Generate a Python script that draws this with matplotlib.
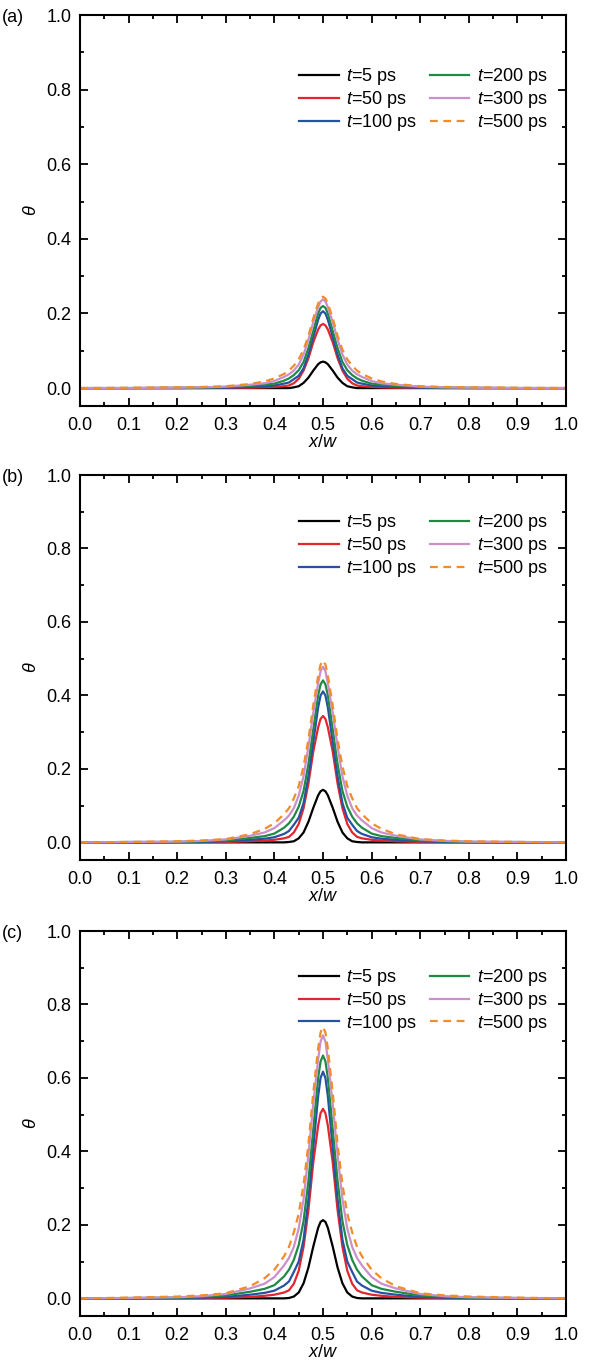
import numpy as np
import matplotlib
matplotlib.use("Agg")
import matplotlib.pyplot as plt

plt.rcParams['font.family'] = ['Liberation Sans', 'DejaVu Sans']
plt.rcParams['mathtext.fontset'] = 'custom'
plt.rcParams['mathtext.it'] = 'Liberation Sans:italic'
plt.rcParams['mathtext.rm'] = 'Liberation Sans'

# position across the channel (x/w)
x_pos = [0.00, 0.10, 0.20, 0.25, 0.30, 0.35, 0.38, 0.40, 0.42, 0.43, 0.44, 0.45, 0.46, 0.47, 0.48, 0.49, 0.495,
         0.50,
         0.505, 0.51, 0.52, 0.53, 0.54, 0.55, 0.56, 0.57, 0.58, 0.60, 0.62, 0.65, 0.70, 0.75, 0.80, 0.90, 1.00]

times = ["5", "50", "100", "200", "300", "500"]

# ---- panel (a) ----
a_t5 = [0, 0, 0, 0, 0, 0, 0, 0, 0, 0.000, 0.002, 0.005, 0.014, 0.028, 0.047, 0.064, 0.069,
        0.071,
        0.069, 0.064, 0.047, 0.028, 0.014, 0.005, 0.002, 0.000, 0, 0, 0, 0, 0, 0, 0, 0, 0]
a_t50 = [0, 0, 0, 0, 0.001, 0.001, 0.002, 0.003, 0.005, 0.007, 0.013, 0.025, 0.047, 0.080, 0.123, 0.157, 0.168,
         0.172,
         0.168, 0.157, 0.123, 0.080, 0.047, 0.025, 0.013, 0.007, 0.005, 0.003, 0.002, 0.001, 0.001, 0, 0, 0, 0]
a_t100 = [0, 0, 0, 0.001, 0.001, 0.003, 0.005, 0.007, 0.012, 0.015, 0.024, 0.033, 0.053, 0.090, 0.137, 0.183, 0.200,
          0.206,
          0.200, 0.183, 0.137, 0.090, 0.053, 0.033, 0.024, 0.015, 0.012, 0.007, 0.005, 0.003, 0.001, 0.001, 0, 0, 0]
a_t200 = [0, 0, 0.001, 0.001, 0.003, 0.006, 0.009, 0.012, 0.020, 0.026, 0.035, 0.048, 0.070, 0.107, 0.153, 0.200, 0.215,
          0.220,
          0.215, 0.200, 0.153, 0.107, 0.070, 0.048, 0.035, 0.026, 0.020, 0.012, 0.009, 0.006, 0.003, 0.001, 0.001, 0, 0]
a_t300 = [0, 0, 0.001, 0.002, 0.004, 0.009, 0.013, 0.019, 0.030, 0.037, 0.047, 0.063, 0.090, 0.130, 0.177, 0.217, 0.232,
          0.238,
          0.232, 0.217, 0.177, 0.130, 0.090, 0.063, 0.047, 0.037, 0.030, 0.019, 0.013, 0.009, 0.004, 0.002, 0.001, 0, 0]
a_t500 = [0, 0.001, 0.002, 0.003, 0.005, 0.011, 0.018, 0.026, 0.038, 0.047, 0.060, 0.077, 0.103, 0.140, 0.187, 0.227, 0.240,
          0.245,
          0.240, 0.227, 0.187, 0.140, 0.103, 0.077, 0.060, 0.047, 0.038, 0.026, 0.018, 0.011, 0.005, 0.003, 0.002, 0.001, 0]

# ---- panel (b) ----
b_t5 = [0, 0, 0, 0, 0, 0, 0, 0, 0, 0.001, 0.003, 0.011, 0.027, 0.056, 0.094, 0.128, 0.139,
        0.143,
        0.139, 0.128, 0.094, 0.056, 0.027, 0.011, 0.003, 0.001, 0, 0, 0, 0, 0, 0, 0, 0, 0]
b_t50 = [0, 0, 0, 0.001, 0.001, 0.003, 0.005, 0.007, 0.011, 0.015, 0.027, 0.050, 0.093, 0.160, 0.247, 0.313, 0.336,
         0.344,
         0.336, 0.313, 0.247, 0.160, 0.093, 0.050, 0.027, 0.015, 0.011, 0.007, 0.005, 0.003, 0.001, 0.001, 0, 0, 0]
b_t100 = [0, 0, 0.001, 0.001, 0.003, 0.007, 0.010, 0.014, 0.023, 0.031, 0.048, 0.067, 0.107, 0.180, 0.273, 0.367, 0.400,
          0.411,
          0.400, 0.367, 0.273, 0.180, 0.107, 0.067, 0.048, 0.031, 0.023, 0.014, 0.010, 0.007, 0.003, 0.001, 0.001, 0, 0]
b_t200 = [0, 0.001, 0.001, 0.003, 0.005, 0.012, 0.017, 0.024, 0.040, 0.052, 0.070, 0.097, 0.140, 0.213, 0.307, 0.400, 0.430,
          0.441,
          0.430, 0.400, 0.307, 0.213, 0.140, 0.097, 0.070, 0.052, 0.040, 0.024, 0.017, 0.012, 0.005, 0.003, 0.001, 0.001, 0]
b_t300 = [0, 0.001, 0.002, 0.004, 0.008, 0.018, 0.027, 0.039, 0.060, 0.073, 0.093, 0.127, 0.180, 0.260, 0.353, 0.433, 0.466,
          0.478,
          0.466, 0.433, 0.353, 0.260, 0.180, 0.127, 0.093, 0.073, 0.060, 0.039, 0.027, 0.018, 0.008, 0.004, 0.002, 0.001, 0]
b_t500 = [0, 0.001, 0.003, 0.005, 0.009, 0.022, 0.037, 0.052, 0.077, 0.093, 0.120, 0.153, 0.207, 0.280, 0.373, 0.453, 0.484,
          0.495,
          0.484, 0.453, 0.373, 0.280, 0.207, 0.153, 0.120, 0.093, 0.077, 0.052, 0.037, 0.022, 0.009, 0.005, 0.003, 0.001, 0]

# ---- panel (c) ----
c_t5 = [0, 0, 0, 0, 0, 0, 0, 0, 0, 0.001, 0.005, 0.016, 0.041, 0.084, 0.141, 0.192, 0.208,
        0.213,
        0.208, 0.192, 0.141, 0.084, 0.041, 0.016, 0.005, 0.001, 0, 0, 0, 0, 0, 0, 0, 0, 0]
c_t50 = [0, 0, 0, 0.001, 0.002, 0.004, 0.007, 0.010, 0.016, 0.022, 0.040, 0.075, 0.140, 0.240, 0.370, 0.470, 0.504,
         0.516,
         0.504, 0.470, 0.370, 0.240, 0.140, 0.075, 0.040, 0.022, 0.016, 0.010, 0.007, 0.004, 0.002, 0.001, 0, 0, 0]
c_t100 = [0, 0, 0.001, 0.002, 0.004, 0.010, 0.015, 0.021, 0.035, 0.046, 0.072, 0.100, 0.160, 0.270, 0.410, 0.550, 0.600,
          0.617,
          0.600, 0.550, 0.410, 0.270, 0.160, 0.100, 0.072, 0.046, 0.035, 0.021, 0.015, 0.010, 0.004, 0.002, 0.001, 0, 0]
c_t200 = [0, 0.001, 0.002, 0.004, 0.008, 0.018, 0.026, 0.036, 0.060, 0.078, 0.105, 0.145, 0.210, 0.320, 0.460, 0.600, 0.645,
          0.661,
          0.645, 0.600, 0.460, 0.320, 0.210, 0.145, 0.105, 0.078, 0.060, 0.036, 0.026, 0.018, 0.008, 0.004, 0.002, 0.001, 0]
c_t300 = [0, 0.001, 0.003, 0.006, 0.012, 0.027, 0.040, 0.058, 0.090, 0.110, 0.140, 0.190, 0.270, 0.390, 0.530, 0.650, 0.699,
          0.716,
          0.699, 0.650, 0.530, 0.390, 0.270, 0.190, 0.140, 0.110, 0.090, 0.058, 0.040, 0.027, 0.012, 0.006, 0.003, 0.001, 0]
c_t500 = [0, 0.002, 0.005, 0.008, 0.014, 0.033, 0.055, 0.078, 0.115, 0.140, 0.180, 0.230, 0.310, 0.420, 0.560, 0.680, 0.724,
          0.739,
          0.724, 0.680, 0.560, 0.420, 0.310, 0.230, 0.180, 0.140, 0.115, 0.078, 0.055, 0.033, 0.014, 0.008, 0.005, 0.002, 0]

panel_data = [
    [a_t5, a_t50, a_t100, a_t200, a_t300, a_t500],
    [b_t5, b_t50, b_t100, b_t200, b_t300, b_t500],
    [c_t5, c_t50, c_t100, c_t200, c_t300, c_t500],
]
panel_tags = ["(a)", "(b)", "(c)"]

colors = ["#000000", "#e3262b", "#2552a3", "#1f8a44", "#cc8fcc", "#f28c28"]

W, H = 589, 1363
fig = plt.figure(figsize=(W / 100, H / 100), dpi=100)

# axes boxes in pixels: (top, bottom)
boxes = [(15, 406), (475, 860), (931, 1316)]
x_left, x_right = 80, 566
leg_anchor = [0.887, 0.922, 0.925]

for k in range(3):
    top, bot = boxes[k]
    ax = fig.add_axes([x_left / W, 1 - bot / H, (x_right - x_left) / W, (bot - top) / H])

    for i in range(6):
        ls = (0, (3.5, 2.5)) if i == 5 else '-'
        ax.plot(x_pos, panel_data[k][i], color=colors[i], linewidth=1.6, linestyle=ls,
                label=r"$t$=" + times[i] + " ps")

    ax.set_xlim(0, 1.0)
    ax.set_ylim(-0.048, 1.0)
    ax.set_xticks(np.arange(0, 1.01, 0.1))
    ax.set_xticks(np.arange(0.05, 1.0, 0.1), minor=True)
    ax.set_yticks(np.arange(0, 1.01, 0.2))
    ax.set_yticks(np.arange(0.1, 1.0, 0.2), minor=True)
    ax.xaxis.set_major_formatter(matplotlib.ticker.FormatStrFormatter('%.1f'))
    ax.yaxis.set_major_formatter(matplotlib.ticker.FormatStrFormatter('%.1f'))
    ax.tick_params(which='both', direction='in', top=True, right=True, labelsize=13, width=1.3)
    ax.tick_params(which='major', length=5.5)
    ax.tick_params(which='minor', length=3)
    ax.tick_params(axis='x', pad=8)
    ax.tick_params(axis='y', pad=6)
    for sp in ax.spines.values():
        sp.set_linewidth(1.5)

    ax.set_xlabel(r"$x$/$w$", fontsize=13, labelpad=0)
    ax.set_ylabel(r"$\theta$", fontsize=13, labelpad=5)

    ax.legend(loc='upper right', bbox_to_anchor=(0.977, leg_anchor[k]), ncol=2, frameon=False,
              fontsize=13, handlelength=2.2, handletextpad=0.4, columnspacing=0.7,
              labelspacing=0.1, borderaxespad=0.0)

    fig.text(2 / W, 1 - (top + 3) / H, panel_tags[k], fontsize=13, va='center', ha='left')

fig.savefig("out.png", dpi=100)
